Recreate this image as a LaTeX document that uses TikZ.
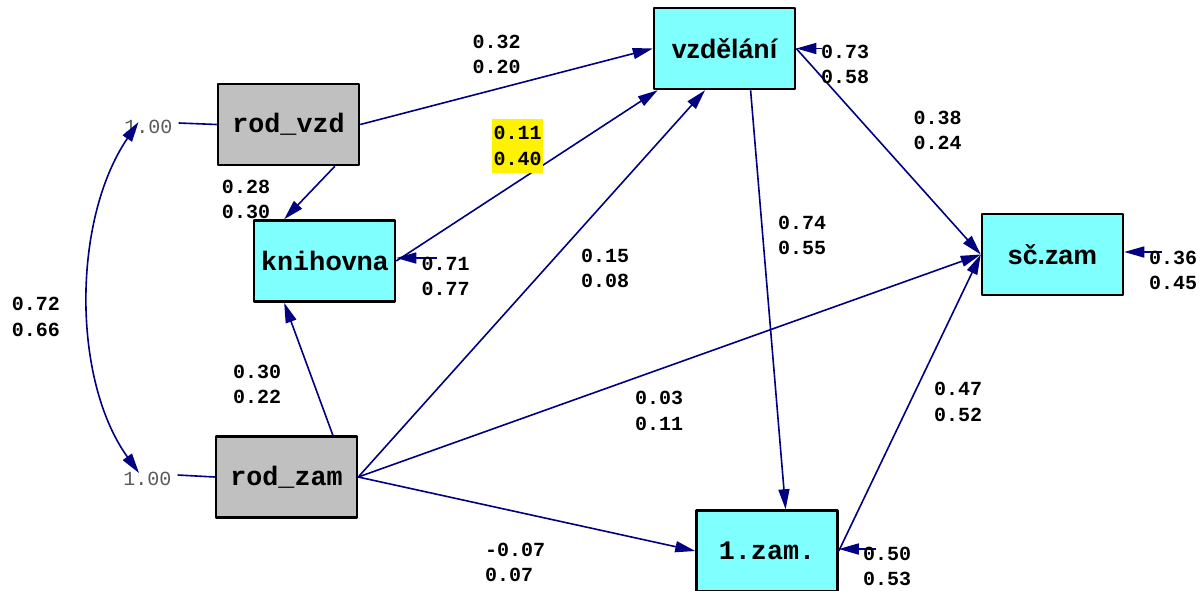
\documentclass[tikz,border=0pt]{standalone}
\usepackage{fontspec}
\usetikzlibrary{arrows.meta}
\newfontfamily\mono{Liberation Mono}
\newfontfamily\sans{Liberation Sans}
\definecolor{navy}{HTML}{000080}
\definecolor{endocol}{HTML}{80FFFF}
\definecolor{exocol}{HTML}{C0C0C0}
\definecolor{onecol}{HTML}{5A5A5A}
\newcommand{\estfont}{\fontsize{20}{25.5}\selectfont\mono\bfseries}
\newcommand{\varfont}{\fontsize{26.7}{32}\selectfont\bfseries}
\begin{document}
\begin{tikzpicture}[x=1pt, y=-1pt, line join=round,
	>={Triangle[length=20pt,width=11pt]},
	endo/.style={draw=black, line width=2.5pt, fill=endocol, minimum width=141pt,
		minimum height=81pt, inner sep=0pt, font=\varfont},
	exo/.style={endo, fill=exocol},
	est/.style={font=\estfont, align=center, inner sep=0pt},
	effect/.style={->, draw=navy, line width=1.6pt},
	one/.style={font=\fontsize{20}{24}\selectfont\mono, text=onecol, inner sep=6pt}]
	
	\useasboundingbox (0,0) rectangle (1201,590);
	\fill[white] (0,0) rectangle (1201,590);
	
	% promenne
	\node[endo] (vzd) at (724.5,48.5) {\sans vzdělání};
	\node[exo] (rodvzd) at (288.5,124.5) {\mono rod\_vzd};
	\node[endo] (kni) at (324.5,261) {{\mono kni}{\sans hovna}};
	\node[endo] (sczam) at (1052.5,254.5) {\sans sč.zam};
	\node[exo] (rodzam) at (286.5,477) {\mono rod\_zam};
	\node[endo] (zam1) at (767,551) {\mono 1.zam.};
	\node[one] (one1) at (148.5,127) {1.00};
	\node[one] (one2) at (147.5,479) {1.00};
	
	% rezidua
	\coordinate (evzd) at (822,48.5);
	\coordinate (ekni) at (437,258);
	\coordinate (esczam) at (1162,252);
	\coordinate (ezam1) at (876,549);
	
	% cesty
	\draw[navy, line width=1.6pt] ([yshift=4pt]one1.east) -- (rodvzd.west);
	\draw[navy, line width=1.6pt] ([yshift=4pt]one2.east) -- (rodzam.west);
	\draw[effect, <->] ([shift={(-10pt,5pt)}]one1.center) .. controls (72,220) and (72,380) .. ([shift={(-8.5pt,6pt)}]one2.center);
	\draw[effect] (rodvzd.east) -- (vzd.west);
	\draw[effect] (rodvzd.-42) -- (kni.134);
	\draw[effect] (kni.east) -- (vzd.212);
	\draw[effect] (rodzam.42) -- (kni.226);
	\draw[effect] (rodzam.east) -- (vzd.245.5);
	\draw[effect] (rodzam.east) -- (sczam.west);
	\draw[effect] (rodzam.east) -- (zam1.west);
	\draw[effect] (vzd.east) -- (sczam.west);
	\draw[effect] (vzd.-58) -- (zam1.66);
	\draw[effect] (zam1.east) -- (sczam.west);
	\draw[effect] (evzd) -- (vzd.east);
	\draw[effect] (ekni) -- ([yshift=3pt]kni.east);
	\draw[effect] (esczam) -- ([yshift=2.5pt]sczam.east);
	\draw[effect] (ezam1) -- ([yshift=2pt]zam1.east);
	
	% odhady
	\node[est] (l1) at (496.5,54.5) {0.32\\0.20};
	\node[est, fill=yellow, inner xsep=1.5pt, inner ysep=7pt] (l2) at (517.5,146) {0.11\\0.40};
	\node[est] (l3) at (246,199.5) {0.28\\0.30};
	\node[est] (l4) at (257,384.5) {0.30\\0.22};
	\node[est] (l5) at (605,268.5) {0.15\\0.08};
	\node[est] (l6) at (659,411) {0.03\\0.11};
	\node[est, anchor=west, align=left] (l7) at (485,562.5) {-0.07\\0.07};
	\node[est] (l8) at (937.5,130.5) {0.38\\0.24};
	\node[est] (l9) at (802,235.5) {0.74\\0.55};
	\node[est] (l10) at (958,402) {0.47\\0.52};
	\node[est] (l11) at (36,317) {0.72\\0.66};
	\node[est] (r1) at (845,64.5) {0.73\\0.58};
	\node[est] (r2) at (445.5,276.5) {0.71\\0.77};
	\node[est] (r3) at (1173,270.5) {0.36\\0.45};
	\node[est] (r4) at (887,566.5) {0.50\\0.53};
	
\end{tikzpicture}
\end{document}
